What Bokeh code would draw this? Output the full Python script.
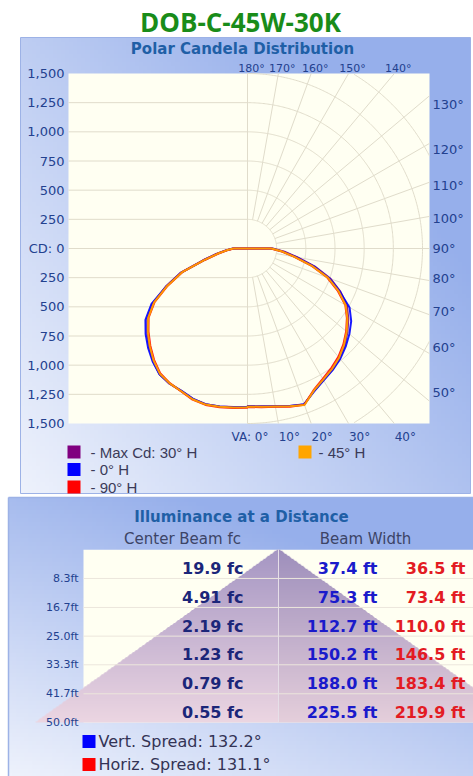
import numpy as np
from bokeh.plotting import figure
from bokeh.models import Range1d
from bokeh.layouts import column
from bokeh.embed import file_html
from bokeh.resources import INLINE
from bokeh.core.properties import value

# ------------------------------------------------------------------ data
chart_title = "DOB-C-45W-30K"
polar_title = "Polar Candela Distribution"
illum_title = "Illuminance at a Distance"

cd_tick_values = [1500, 1250, 1000, 750, 500, 250, 0, -250, -500, -750, -1000, -1250, -1500]
cd_tick_labels = ["1,500", "1,250", "1,000", "750", "500", "250", "CD: 0",
                  "250", "500", "750", "1,000", "1,250", "1,500"]
grid_radii = [250, 500, 750, 1000, 1250, 1500, 1750]
radial_angles = [10, 20, 30, 40, 50, 60, 70, 80, 90, 100, 110, 120, 130, 140, 150, 160, 170]
top_angles = [180, 170, 160, 150, 140]
right_angles = [130, 120, 110, 100, 90, 80, 70, 60, 50]
bottom_angles = [0, 10, 20, 30, 40]

va_deg = [0, 5, 10, 15, 20, 25, 30, 35, 40, 45, 50, 55, 60, 65, 70, 75, 80, 85, 90]

# candela, right half of the polar plot
purple_R = [1350, 1358, 1372, 1398, 1422, 1348, 1302, 1268, 1228, 1178, 1118, 1055, 985, 880, 758, 598, 432, 318, 215]
blue_R   = [1352, 1360, 1373, 1398, 1420, 1352, 1305, 1272, 1236, 1190, 1140, 1085, 1010, 872, 745, 585, 420, 305, 208]
red_R    = [1358, 1366, 1378, 1404, 1425, 1340, 1290, 1252, 1212, 1162, 1104, 1040, 968, 852, 728, 565, 404, 296, 200]
orange_R = [1354, 1362, 1375, 1400, 1428, 1345, 1298, 1262, 1222, 1170, 1110, 1045, 972, 860, 735, 572, 410, 300, 205]
# candela, left half of the polar plot
purple_L = [1356, 1364, 1375, 1382, 1372, 1346, 1338, 1315, 1260, 1192, 1122, 1048, 935, 772, 612, 398, 272, 188, 126]
blue_L   = [1358, 1366, 1376, 1383, 1370, 1344, 1336, 1316, 1265, 1205, 1140, 1068, 950, 768, 604, 390, 266, 183, 122]
red_L    = [1364, 1372, 1382, 1388, 1378, 1350, 1332, 1305, 1246, 1178, 1108, 1035, 920, 755, 595, 380, 258, 176, 116]
orange_L = [1360, 1368, 1378, 1385, 1375, 1348, 1335, 1310, 1253, 1185, 1115, 1040, 925, 760, 600, 385, 262, 180, 120]

series_labels = ["- Max Cd: 30° H", "- 0° H", "- 90° H", "- 45° H"]
series_colors = ["#800080", "#0000ff", "#ff0000", "#ffa500"]

distances_ft = [8.3, 16.7, 25.0, 33.3, 41.7, 50.0]
center_fc = [19.9, 4.91, 2.19, 1.23, 0.79, 0.55]
beam_vert_ft = [37.4, 75.3, 112.7, 150.2, 188.0, 225.5]
beam_horiz_ft = [36.5, 73.4, 110.0, 146.5, 183.4, 219.9]
vert_spread_deg = 132.2
horiz_spread_deg = 131.1

# ------------------------------------------------------------------ styles
LABEL = "#23418f"
TITLE_BLUE = "#1f5fa6"
GRID = "#e0dccb"
CREAM = "#fffff2"
PANEL_LINE = "#9db2e6"
F = value("DejaVu Sans")

W = 473
H1 = 495           # page y 0..495
H2 = 281           # page y 495..776
TOP2 = 495.0


def rgba(arr_r, arr_g, arr_b, arr_a):
    ny, nx = arr_r.shape
    img = np.empty((ny, nx), dtype=np.uint32)
    v = img.view(dtype=np.uint8).reshape((ny, nx, 4))
    v[..., 0] = arr_r
    v[..., 1] = arr_g
    v[..., 2] = arr_b
    v[..., 3] = arr_a
    return img


def gradient(nx, ny, wu, wv):
    light = np.array([238, 242, 252], dtype=float)
    dark = np.array([150, 175, 235], dtype=float)
    u = np.linspace(0, 1, nx)[None, :]
    vt = 1 - np.linspace(0, 1, ny)[:, None]       # 0 at top, 1 at bottom
    t = np.clip(wu * u + wv * (1 - vt), 0, 1)
    c = light[None, None, :] + (dark - light)[None, None, :] * t[..., None]
    c = c.astype(np.uint8)
    return rgba(c[..., 0], c[..., 1], c[..., 2], np.full(t.shape, 255, np.uint8))


# ================================================================== polar figure
K = 175.0 / 1500.0          # px per candela
CXP, CYP = 247.0, 248.0     # page position of the polar centre


def ux(px):
    return (px - CXP) / K


def uy(py):
    return (CYP - py) / K


p1 = figure(width=W, height=H1, x_range=Range1d(ux(0), ux(W)),
            y_range=Range1d(uy(H1), uy(0)), output_backend="svg",
            toolbar_location=None, min_border=0,
            x_axis_location=None, y_axis_location=None)
p1.grid.visible = False
p1.outline_line_color = None
p1.background_fill_color = "white"
p1.border_fill_color = "white"

# panel
pl, pr, pt, pb = ux(20), ux(470), uy(37), uy(493)
p1.image_rgba(image=[gradient(110, 114, 0.72, 0.55)], x=pl, y=pb, dw=pr - pl, dh=pt - pb)
p1.quad(left=pl, right=pr, top=pt, bottom=pb, fill_color=None, line_color=PANEL_LINE, line_width=1)

# plot area
fl, fr = ux(68), ux(429)
ft, fb = 1500, -1500
p1.quad(left=fl, right=fr, top=ft, bottom=fb, fill_color=CREAM, line_color=None)

# left-half horizontal grid
hy = [v for v in cd_tick_values if abs(v) < 1500]
p1.segment(x0=[fl] * len(hy), y0=hy, x1=[0] * len(hy), y1=hy, line_color=GRID, line_width=1)
p1.segment(x0=[0], y0=[fb], x1=[0], y1=[ft], line_color=GRID, line_width=1)

# right-half polar grid: arcs
th = np.linspace(0, np.pi, 361)
for r in grid_radii:
    ax = r * np.sin(th)
    ay = -r * np.cos(th)
    bad = (ax > fr) | (np.abs(ay) > 1500)
    ax = ax.copy(); ay = ay.copy()
    ax[bad] = np.nan; ay[bad] = np.nan
    p1.line(ax, ay, line_color=GRID, line_width=1)

# radial lines
rx0, ry0, rx1, ry1 = [], [], [], []
for a in radial_angles:
    s, c = np.sin(np.radians(a)), np.cos(np.radians(a))
    rend = fr / s
    if abs(c) > 1e-9:
        rend = min(rend, 1500 / abs(c))
    rx0.append(250 * s); ry0.append(-250 * c)
    rx1.append(rend * s); ry1.append(-rend * c)
p1.segment(x0=rx0, y0=ry0, x1=rx1, y1=ry1, line_color=GRID, line_width=1)

# candela curves


def curve(left, right):
    a = np.radians(va_deg)
    L = np.array(left, float)
    R = np.array(right, float)
    xl, yl = -L * np.sin(a), -L * np.cos(a)
    xr, yr = R * np.sin(a), -R * np.cos(a)
    xs = [0.0] + list(xl[::-1]) + list(xr) + [0.0]
    ys = [0.0] + list(yl[::-1]) + list(yr) + [0.0]
    return xs, ys


for L, R, col in [(purple_L, purple_R, series_colors[0]), (blue_L, blue_R, series_colors[1]),
                  (red_L, red_R, series_colors[2]), (orange_L, orange_R, series_colors[3])]:
    xs, ys = curve(L, R)
    p1.line(xs, ys, line_color=col, line_width=2, line_alpha=0.9)

# left tick labels
p1.text(x=[ux(64)] * len(cd_tick_values), y=cd_tick_values, text=cd_tick_labels,
        text_align="right", text_baseline="middle", text_font=F, text_font_size="13px",
        text_color=LABEL)

# top angle labels
tx = [1500 * np.tan(np.radians(180 - a)) for a in top_angles]
p1.text(x=tx, y=[uy(68)] * len(tx), text=[f"{a}°" for a in top_angles], x_offset=4,
        text_align="center", text_baseline="middle", text_font=F, text_font_size="11px",
        text_color=LABEL)

# right angle labels
X0 = 172 / K
ry = [-X0 * np.cos(np.radians(a)) / np.sin(np.radians(a)) for a in right_angles]
p1.text(x=[ux(432)] * len(ry), y=ry, text=[f"{a}°" for a in right_angles],
        text_align="left", text_baseline="middle", text_font=F, text_font_size="13px",
        text_color=LABEL)

# bottom angle labels
bx = [1500 * np.tan(np.radians(a)) for a in bottom_angles[1:]]
p1.text(x=bx, y=[uy(436)] * len(bx), text=[f"{a}°" for a in bottom_angles[1:]], x_offset=11,
        text_align="center", text_baseline="middle", text_font=F, text_font_size="12px",
        text_color=LABEL)
p1.text(x=[0], y=[uy(436)], text=[f"VA: {bottom_angles[0]}°"], x_offset=21,
        text_align="right", text_baseline="middle", text_font=F, text_font_size="12px",
        text_color=LABEL)

# titles
p1.text(x=[ux(240)], y=[uy(21)], text=[chart_title], text_align="center", text_baseline="middle",
        text_font=value("Open Sans"), text_font_size="26px", text_font_style="bold",
        text_color="#198c19")
p1.text(x=[ux(242)], y=[uy(48)], text=[polar_title], text_align="center", text_baseline="middle",
        text_font=F, text_font_size="15px", text_font_style="bold", text_color=TITLE_BLUE)

# legend
lg_x = [ux(73.5), ux(73.5), ux(73.5), ux(304.5)]
lg_y = [uy(451.5), uy(469), uy(486.5), uy(451.5)]
p1.rect(x=lg_x, y=lg_y, width=13, height=13, width_units="screen", height_units="screen",
        fill_color=series_colors, line_color=None)
p1.text(x=[ux(90), ux(90), ux(90), ux(318)], y=lg_y, text=series_labels,
        text_align="left", text_baseline="middle", text_font=value("Liberation Sans"),
        text_font_size="15px", text_color="#3b3b58")

# ================================================================== illuminance figure
KX = 2.16     # px per ft (horizontal)
KY = 3.453    # px per ft (distance)
AXP, AYP = 278.0, 549.3   # page position of the cone apex


def lx(px):
    return (px - AXP) / KX


def ly(py):
    return (AYP - py) / KY


p2 = figure(width=W, height=H2, x_range=Range1d(lx(0), lx(W)),
            y_range=Range1d(ly(TOP2 + H2), ly(TOP2)), output_backend="svg",
            toolbar_location=None, min_border=0,
            x_axis_location=None, y_axis_location=None)
p2.grid.visible = False
p2.outline_line_color = None
p2.background_fill_color = "white"
p2.border_fill_color = "white"

ql, qr, qt, qb = lx(8), lx(480), ly(497), ly(TOP2 + H2)
p2.image_rgba(image=[gradient(118, 70, 0.5, 0.8)], x=ql, y=qb, dw=qr - ql, dh=qt - qb)
p2.segment(x0=[ql, ql], y0=[qb, qt], x1=[ql, qr], y1=[qt, qt], line_color=PANEL_LINE, line_width=1.5)

dmax = distances_ft[-1]
# table area
p2.quad(left=lx(83), right=lx(480), top=0, bottom=-dmax, fill_color=CREAM, line_color=None)

# beam cone (vertical beam width), vertical gradient
half = beam_vert_ft[-1] / 2.0
x0c, x1c = lx(30), lx(480)
nx, ny = 450, 173
xc = x0c + (np.arange(nx) + 0.5) * (x1c - x0c) / nx
dc = dmax - (np.arange(ny) + 0.5) * dmax / ny          # row 0 is the bottom (largest distance)
XX, DD = np.meshgrid(xc, dc)
inside = np.abs(XX) <= half * DD / dmax
top_c = np.array([165, 150, 195], float)
bot_c = np.array([236, 214, 226], float)
tt = (DD / dmax)[..., None]
cc = top_c + (bot_c - top_c) * tt
cc = cc - np.where(XX > 0, 7, 0)[..., None]
cc = np.clip(cc, 0, 255).astype(np.uint8)
alpha = np.where(inside, 255, 0).astype(np.uint8)
p2.image_rgba(image=[rgba(cc[..., 0], cc[..., 1], cc[..., 2], alpha)], x=x0c, y=-dmax,
              dw=x1c - x0c, dh=dmax)

# table lines
sep = [-d for d in distances_ft[:-1]]
p2.segment(x0=[lx(83)] * len(sep), y0=sep, x1=[lx(480)] * len(sep), y1=sep,
           line_color="#ece6dc", line_width=1)
p2.segment(x0=[0], y0=[0], x1=[0], y1=[-dmax], line_color="#e6dfe8", line_width=1)

# distance labels
p2.text(x=[lx(78)] * len(distances_ft), y=[-d for d in distances_ft],
        text=[f"{d:.1f}ft" for d in distances_ft], text_align="right", text_baseline="middle",
        text_font=F, text_font_size="11px", text_color=LABEL)

row_y = [-d for d in distances_ft]
p2.text(x=[lx(243)] * 6, y=row_y, text=[f"{v:g} fc" for v in center_fc], y_offset=-10,
        text_align="right", text_baseline="middle", text_font=F, text_font_size="16px",
        text_font_style="bold", text_color="#1b2679")
p2.text(x=[lx(377)] * 6, y=row_y, text=[f"{v:.1f} ft" for v in beam_vert_ft], y_offset=-10,
        text_align="right", text_baseline="middle", text_font=F, text_font_size="16px",
        text_font_style="bold", text_color="#1a1acb")
p2.text(x=[lx(465)] * 6, y=row_y, text=[f"{v:.1f} ft" for v in beam_horiz_ft], y_offset=-10,
        text_align="right", text_baseline="middle", text_font=F, text_font_size="16px",
        text_font_style="bold", text_color="#e31b23")

# headers and title
p2.text(x=[lx(241)], y=[ly(516)], text=[illum_title], text_align="center", text_baseline="middle",
        text_font=F, text_font_size="15px", text_font_style="bold", text_color=TITLE_BLUE)
p2.text(x=[lx(182), lx(365)], y=[ly(538), ly(538)], text=["Center Beam fc", "Beam Width"],
        text_align="center", text_baseline="middle", text_font=F, text_font_size="15px",
        text_color="#3c4466")

# spread legend
p2.rect(x=[lx(88.5), lx(88.5)], y=[ly(741), ly(764)], width=13, height=13,
        width_units="screen", height_units="screen", fill_color=["#0000ff", "#ff0000"], line_color=None)
p2.text(x=[lx(98), lx(98)], y=[ly(741), ly(764)],
        text=[f"Vert.  Spread: {vert_spread_deg}°", f"Horiz. Spread: {horiz_spread_deg}°"],
        text_align="left", text_baseline="middle", text_font=F, text_font_size="16px",
        text_color="#333355")

layout = column(p1, p2, spacing=0)
open("out.html", "w").write(file_html(layout, INLINE))
